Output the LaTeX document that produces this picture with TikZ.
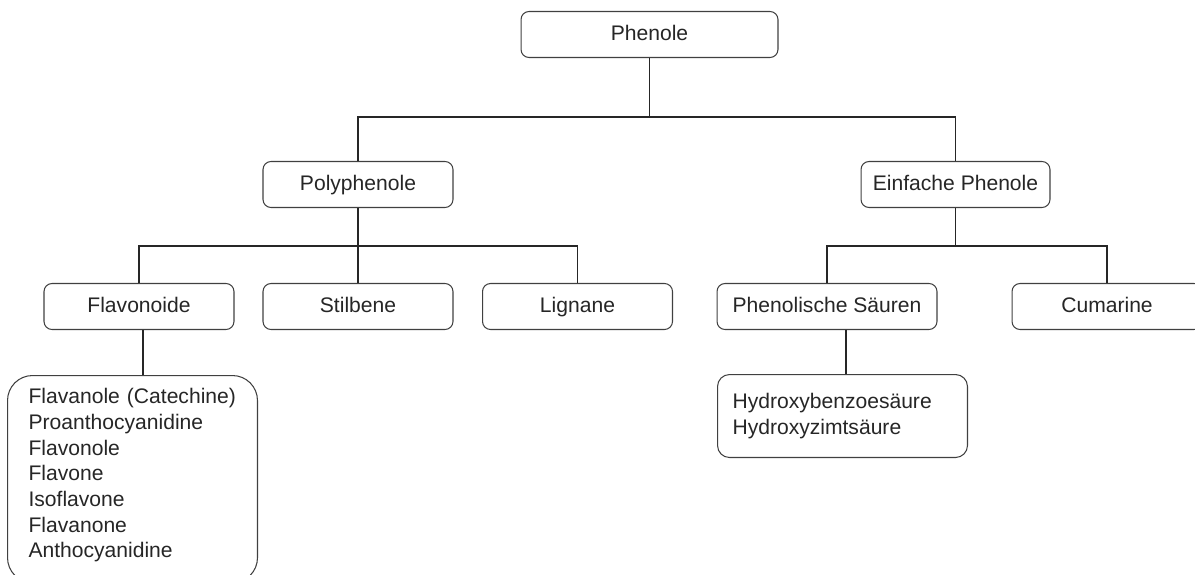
\documentclass[tikz,border=0pt]{standalone}
\usepackage{fontspec}
\setmainfont{Liberation Sans}

\tikzset{
  kasten/.style={draw=black!75, line width=0.6pt, rounded corners=0.16cm,
    minimum width=3.8cm, minimum height=0.92cm, inner sep=0pt, text=black!85,
    text height=0.72em, text depth=0pt},
  liste/.style={draw=black!75, line width=0.6pt, align=left, text=black!85,
    anchor=north west},
  linie/.style={draw=black!85, line width=0.6pt}
}

\begin{document}
\begin{tikzpicture}[
  x=0.02cm,
  y=-0.02cm,
  font=\fontsize{12}{14.6}\selectfont
]
  \useasboundingbox (0,0) rectangle (1195,574);

  % Ebenen der Verbindungslinien
  \coordinate (bar1) at (0,117);
  \coordinate (bar2) at (0,246);

  % Wurzel
  \node[kasten, minimum width=5.14cm] (phenole) at (649.5,34.5) {Phenole};

  % Zweite Ebene
  \node[kasten] (poly) at (358,184.5) {Polyphenole};
  \node[kasten, minimum width=3.78cm] (einfach) at (955.5,184.5) {Einfache Phenole};

  % Dritte Ebene
  \node[kasten] (flavo) at (139,306.5) {Flavonoide};
  \node[kasten] (stilb) at (358,306.5) {Stilbene};
  \node[kasten] (lign) at (577.5,306.5) {Lignane};
  \node[kasten, minimum width=4.4cm] (saeur) at (827,306.5) {Phenolische Säuren};
  \node[kasten] (cuma) at (1107,306.5) {Cumarine};

  % Listen (die untere reicht über den Rand hinaus)
  \node[liste, rounded corners=0.5cm, text width=4.16cm, inner xsep=0.42cm,
    inner ysep=0.26cm] (flavliste) at (7,375)
    {Flavanole (Catechine)\\Proanthocyanidine\\Flavonole\\Flavone\\%
     Isoflavone\\Flavanone\\Anthocyanidine\rule[-0.24cm]{0pt}{0.24cm}};
  \node[liste, rounded corners=0.24cm, text width=4.4cm, inner xsep=0.3cm,
    inner ysep=0pt, minimum height=1.66cm] (saeurliste) at (717,374)
    {Hydroxybenzoesäure\\Hydroxyzimtsäure};

  % Verbindungen
  \draw[linie] (phenole.south) -- (phenole.south |- bar1);
  \draw[linie] (poly.north) |- (bar1 -| einfach.north) -- (einfach.north);

  \draw[linie] (poly.south) -- (stilb.north);
  \draw[linie] (flavo.north) |- (bar2 -| lign.north) -- (lign.north);

  \draw[linie] (einfach.south) -- (einfach.south |- bar2);
  \draw[linie] (saeur.north) |- (bar2 -| cuma.north) -- (cuma.north);

  \coordinate (fl) at ([xshift=0.08cm]flavo.south);
  \coordinate (sl) at ([xshift=0.38cm]saeur.south);
  \draw[linie] (fl) -- (fl |- flavliste.north);
  \draw[linie] (sl) -- (sl |- saeurliste.north);
\end{tikzpicture}
\end{document}
